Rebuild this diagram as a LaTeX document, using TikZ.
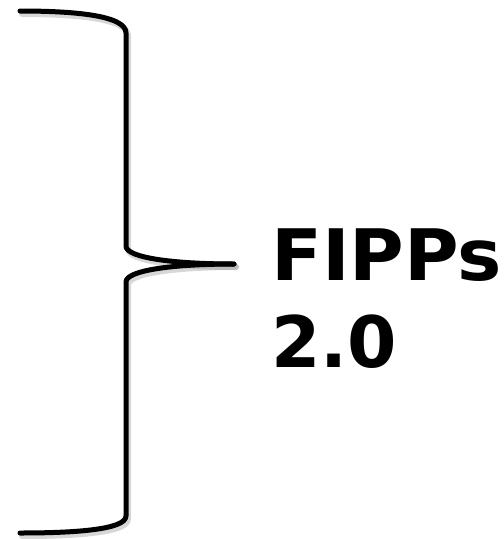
\documentclass[tikz,border=0pt]{standalone}
\usepackage{fontspec}
\setmainfont{DejaVu Sans}
\begin{document}
\begin{tikzpicture}[x=1pt,y=-1pt,
  bracepath/.style={line width=5pt, line cap=round, line join=round},
  braceshadow/.style={bracepath, draw=black!45, opacity=0.35, line width=6pt},
  bigtext/.style={font=\bfseries\fontsize{71}{87}\selectfont, inner sep=0pt, anchor=base west}]
\useasboundingbox (0,0) rectangle (504,539);
% soft shadow of the brace
\begin{scope}[shift={(2,3)}]
\draw[braceshadow] (20,11) .. controls (72,11) and (126,15) .. (126,33)
  -- (126,246) .. controls (126,258) and (175,264) .. (234,264);
\draw[braceshadow] (234,264) .. controls (175,264) and (126,270) .. (126,282)
  -- (126,516) .. controls (126,530) and (72,533) .. (20,533);
\end{scope}
% the right curly brace
\coordinate (top) at (20,11);
\coordinate (tip) at (234,264);
\coordinate (bottom) at (20,533);
\draw[bracepath] (top) .. controls (72,11) and (126,15) .. (126,33)
  -- (126,246) .. controls (126,258) and (175,264) .. (tip);
\draw[bracepath] (tip) .. controls (175,264) and (126,270) .. (126,282)
  -- (126,516) .. controls (126,530) and (72,533) .. (bottom);
% label
\node[bigtext, xscale=1.05, transform shape] (l1) at (271,280) {FIPPs};
\node[bigtext] (l2) at (271,367) {2.0};
\end{tikzpicture}
\end{document}
